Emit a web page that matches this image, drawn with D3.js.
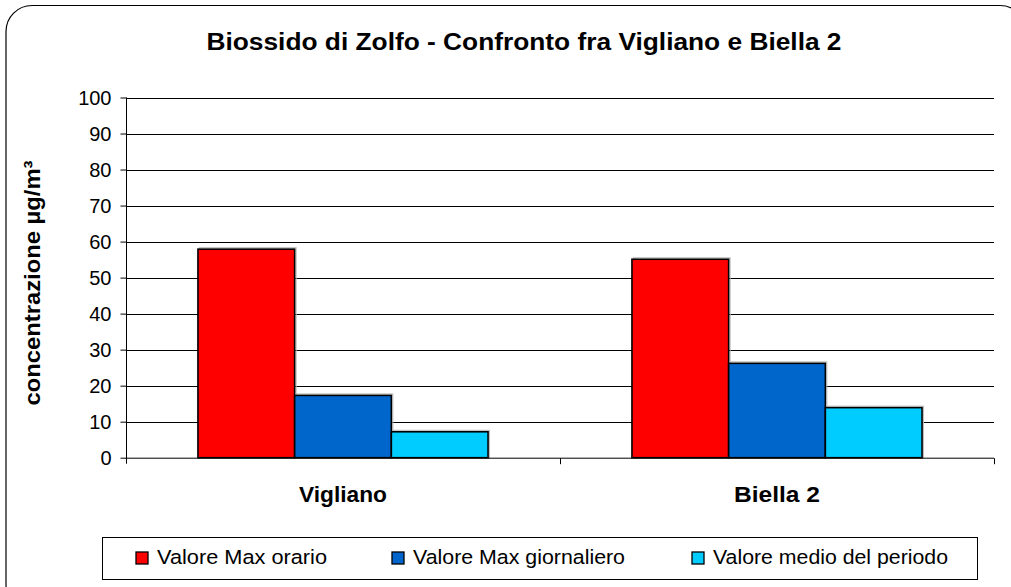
<!DOCTYPE html>
<html><head><meta charset="utf-8">
<script src="https://cdn.jsdelivr.net/npm/d3@7"></script>
<style>body{margin:0;background:#fff}svg{display:block}text{font-family:"Liberation Sans",Arial,sans-serif}</style>
</head><body><svg id="c" width="1011" height="587"></svg>
<script>
const categories = ["Vigliano", "Biella 2"];
const seriesNames = ["Valore Max orario", "Valore Max giornaliero", "Valore medio del periodo"];
const seriesColors = ["#ff0000", "#0066cc", "#00ccff"];
const valMaxOrario = [57.9, 55.1];
const valMaxGiornaliero = [17.3, 26.2];
const valMedio = [7.2, 13.9];
const yTicks = [0, 10, 20, 30, 40, 50, 60, 70, 80, 90, 100];
const series = [valMaxOrario, valMaxGiornaliero, valMedio];

const svg = d3.select("#c");
// outer frame
svg.append("rect").attr("x", 6).attr("y", 5.5).attr("width", 1020).attr("height", 605)
  .attr("rx", 26).attr("fill", "#fff").attr("stroke", "#000").attr("stroke-width", 1.2);

const L = 126, R = 994, T = 97.5, B = 457.7;
const y = d3.scaleLinear().domain([0, 100]).range([B, T]);
const x0 = d3.scaleBand().domain(categories).range([L, R]).paddingInner(0).paddingOuter(0);

// gridlines
svg.append("g").selectAll("line").data(yTicks.slice(1)).join("line")
  .attr("x1", L).attr("x2", R).attr("y1", d => Math.round(y(d)) + 0.5).attr("y2", d => Math.round(y(d)) + 0.5)
  .attr("stroke", "#000").attr("stroke-width", 1);

// y axis
const yAxis = d3.axisLeft(y).tickValues(yTicks).tickSize(6).tickPadding(9).tickSizeOuter(0);
const gy = svg.append("g").attr("transform", `translate(${L + 0.5},0)`).call(yAxis);
gy.select(".domain").attr("stroke", "#000").attr("d", `M0,${T}V${B + 6}`);
gy.selectAll(".tick line").attr("stroke", "#000");
gy.selectAll(".tick text").attr("font-size", 20).attr("fill", "#000").attr("dy", "0.35em")
  .attr("font-family", "'Liberation Sans',Arial,sans-serif");

// bars
const barW = 96.7;
const groupW = barW * 3;
const g = svg.append("g");
categories.forEach((c, ci) => {
  const start = x0(c) + (x0.bandwidth() - groupW) / 2;
  series.forEach((s, si) => {
    const bx = start + si * barW;
    g.append("rect").attr("x", bx + 1.5).attr("y", y(s[ci]) - 1.5).attr("width", barW).attr("height", B - y(s[ci]) + 1.5)
      .attr("fill", "none").attr("stroke", "#bbb").attr("stroke-width", 1);
    g.append("rect").attr("x", bx).attr("y", y(s[ci])).attr("width", barW).attr("height", B - y(s[ci]))
      .attr("fill", seriesColors[si]).attr("stroke", "#000").attr("stroke-width", 1.6);
  });
});

// x axis
const gx = svg.append("g").attr("transform", `translate(0,${B + 0.5})`);
gx.append("line").attr("x1", L).attr("x2", R).attr("stroke", "#000");
gx.selectAll("line.t").data([L + x0.bandwidth(), R]).join("line").attr("class", "t")
  .attr("x1", d => Math.round(d) + 0.5).attr("x2", d => Math.round(d) + 0.5).attr("y1", 0).attr("y2", 6).attr("stroke", "#000");
const catW = [88, 86];
svg.append("g").selectAll("text").data(categories).join("text")
  .attr("x", d => x0(d) + x0.bandwidth() / 2).attr("y", 502)
  .attr("text-anchor", "middle").attr("font-size", 22.5).attr("font-weight", "bold")
  .attr("textLength", (d, i) => catW[i]).attr("lengthAdjust", "spacingAndGlyphs").text(d => d);

// title
svg.append("text").attr("x", 524).attr("y", 49.5).attr("text-anchor", "middle")
  .attr("font-size", 23.5).attr("font-weight", "bold")
  .attr("textLength", 635).attr("lengthAdjust", "spacingAndGlyphs")
  .text("Biossido di Zolfo - Confronto fra Vigliano e Biella 2");

// y label
svg.append("text").attr("transform", "translate(40,283) rotate(-90)").attr("text-anchor", "middle")
  .attr("font-size", 22).attr("font-weight", "bold")
  .attr("textLength", 245).attr("lengthAdjust", "spacingAndGlyphs").text("concentrazione µg/m³");

// legend
svg.append("rect").attr("x", 102.5).attr("y", 537.5).attr("width", 875).attr("height", 42)
  .attr("fill", "#fff").attr("stroke", "#000").attr("stroke-width", 1);
const legX = [136, 392, 692];
const legW = [170, 212, 235];
const lg = svg.append("g").selectAll("g").data(seriesNames).join("g")
  .attr("transform", (d, i) => `translate(${legX[i]},552)`);
lg.append("rect").attr("width", 12).attr("height", 12).attr("fill", (d, i) => seriesColors[i])
  .attr("stroke", "#000").attr("stroke-width", 1.3);
lg.append("text").attr("x", 21).attr("y", 11.5).attr("font-size", 20.5)
  .attr("textLength", (d, i) => legW[i]).attr("lengthAdjust", "spacingAndGlyphs").text(d => d);
</script></body></html>
